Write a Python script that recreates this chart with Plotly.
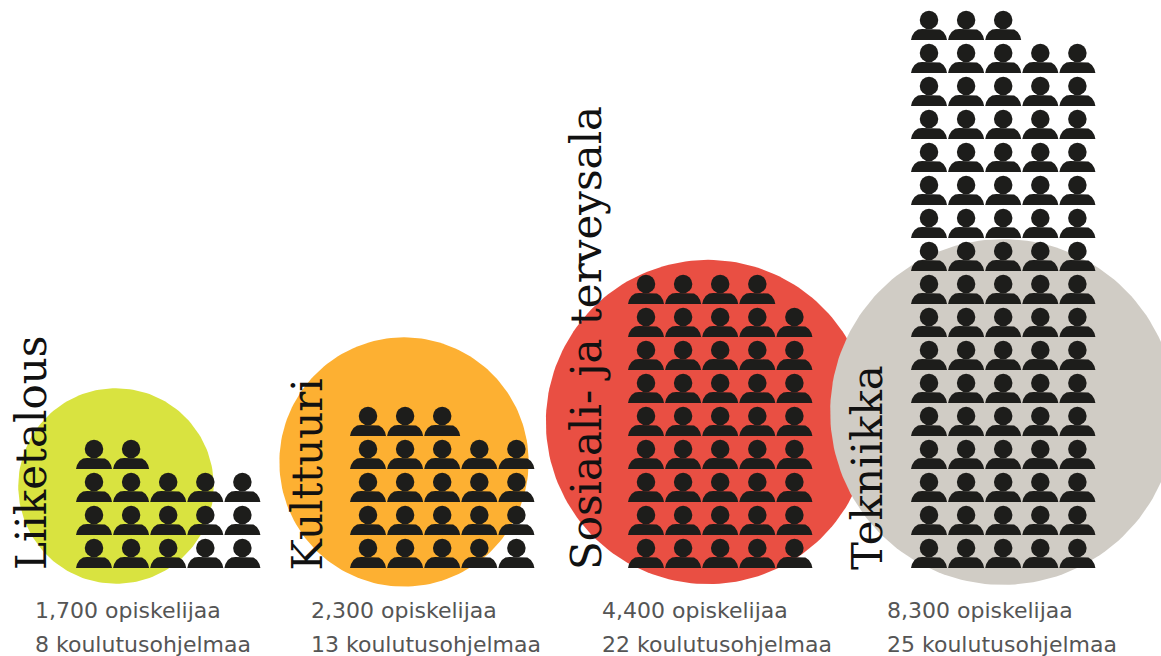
import math
import plotly.graph_objects as go

# ---- data ----
fields = ["Liiketalous", "Kulttuuri", "Sosiaali- ja terveysala", "Tekniikka"]
students = [1700, 2300, 4400, 8300]
programmes = [8, 13, 22, 25]
circle_colors = ["#d9e340", "#fdb032", "#e94f43", "#d0ccc5"]
students_text = ["1,700 opiskelijaa", "2,300 opiskelijaa", "4,400 opiskelijaa", "8,300 opiskelijaa"]
programmes_text = ["8 koulutusohjelmaa", "13 koulutusohjelmaa", "22 koulutusohjelmaa", "25 koulutusohjelmaa"]

# ---- layout constants (pixel-space axes) ----
W, H = 1161, 656
circle_cx = [116, 404, 708, 1003]
circle_cy = [486, 462, 422, 412]
AREA_PER_PROGRAMME = 1195.0
grid_x0 = [94, 368, 646, 929]
title_x = [31.5, 307, 586.5, 867]
text_x = [33, 309, 600, 885]
BASE_Y, DX, DY, PER_ROW, PER_ICON = 568, 37.1, 33, 5, 100
INK = "#1d1d1b"

# body outline, relative to icon centre/baseline
body_outline = [(-18, 0), (-17, -4), (-14.5, -8), (-11, -10.5), (-7, -11),
                (7, -11), (11, -10.5), (14.5, -8), (17, -4), (18, 0), (-18, 0)]

fig = go.Figure()

# circles: area proportional to programme count
for cx, cy, n, col in zip(circle_cx, circle_cy, programmes, circle_colors):
    r = math.sqrt(n * AREA_PER_PROGRAMME)
    ts = [2 * math.pi * i / 180 for i in range(181)]
    fig.add_trace(go.Scatter(
        x=[cx + r * math.cos(t) for t in ts],
        y=[cy + r * math.sin(t) for t in ts],
        mode="lines", fill="toself", fillcolor=col, line=dict(width=0, color=col),
        hoverinfo="skip", showlegend=False))

# icons: one person per 100 students
hx, hy, bx, by = [], [], [], []
for s, x0 in zip(students, grid_x0):
    for i in range(s // PER_ICON):
        col, row = i % PER_ROW, i // PER_ROW
        px, py = x0 + col * DX, BASE_Y - row * DY
        hx.append(px)
        hy.append(py - 20)
        for dx, dy in body_outline:
            bx.append(px + dx)
            by.append(py + dy)
        bx.append(None)
        by.append(None)
fig.add_trace(go.Scatter(x=bx, y=by, mode="lines", fill="toself", fillcolor=INK,
                         line=dict(width=0, color=INK), hoverinfo="skip", showlegend=False))
fig.add_trace(go.Scatter(x=hx, y=hy, mode="markers",
                         marker=dict(symbol="circle", size=18.5, color=INK, line=dict(width=0)),
                         hoverinfo="skip", showlegend=False))

# texts
for name, tx in zip(fields, title_x):
    fig.add_annotation(x=tx, y=572.5, text=name, textangle=-90, showarrow=False,
                       xanchor="center", yanchor="bottom",
                       font=dict(family="DejaVu Serif", size=42, color="#111111"))
for s, p, tx in zip(students_text, programmes_text, text_x):
    fig.add_annotation(x=tx, y=610, text=s, showarrow=False, xanchor="left", yanchor="middle",
                       font=dict(family="DejaVu Sans", size=22, color="#555555"))
    fig.add_annotation(x=tx, y=644, text=p, showarrow=False, xanchor="left", yanchor="middle",
                       font=dict(family="DejaVu Sans", size=22, color="#555555"))

fig.update_layout(
    width=W, height=H, autosize=False,
    margin=dict(l=0, r=0, t=0, b=0),
    paper_bgcolor="white", plot_bgcolor="white", showlegend=False,
    xaxis=dict(range=[0, W], visible=False, fixedrange=True),
    yaxis=dict(range=[H, 0], visible=False, fixedrange=True),
)
fig.write_html("out.html", config={"displayModeBar": False},
               post_script="document.body.style.margin='0';document.body.style.overflow='hidden';")
